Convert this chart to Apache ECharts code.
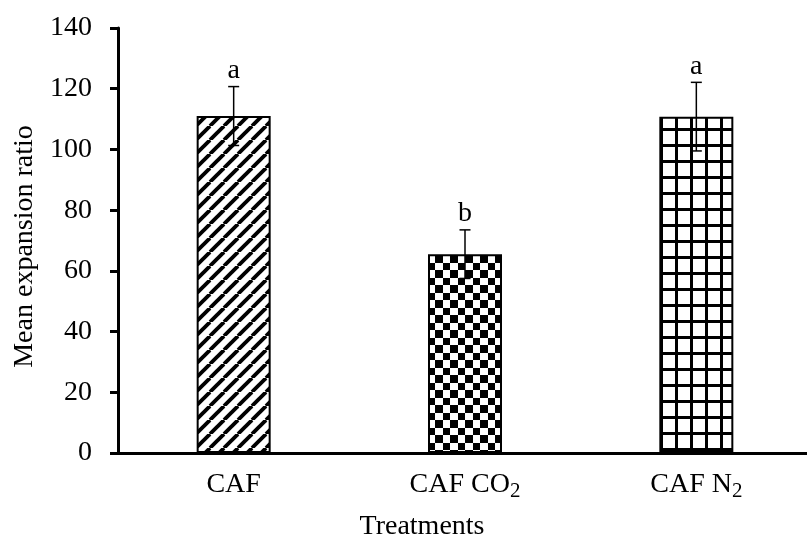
<!DOCTYPE html>
<html>
<head>
<meta charset="utf-8">
<script src="https://cdn.jsdelivr.net/npm/echarts@6/dist/echarts.min.js"></script>
<style>
  html, body { margin: 0; padding: 0; background: #fff; }
  #main { width: 807px; height: 535px; }
</style>
</head>
<body>
<div id="main"></div>
<script>
// data
var categories = ['CAF', 'CAF CO2', 'CAF N2'];
var meanValues = [111, 65.5, 110.8];
var errorValues = [9.7, 8, 11.3];
var groupLetters = ['a', 'b', 'a'];

var FONT = '"Liberation Serif", "Times New Roman", serif';

// small canvas tiles used as bar fills
function makeTile(w, h, draw) {
  var c = document.createElement('canvas');
  c.width = w;
  c.height = h;
  var ctx = c.getContext('2d');
  ctx.fillStyle = '#fff';
  ctx.fillRect(0, 0, w, h);
  ctx.fillStyle = '#000';
  ctx.strokeStyle = '#000';
  draw(ctx, w, h);
  return c;
}

var stripeTile = makeTile(14, 14, function (ctx, w, h) {
  ctx.lineWidth = 3.8;
  [-w, 0, w].forEach(function (k) {
    ctx.beginPath();
    ctx.moveTo(k, h);
    ctx.lineTo(k + w, 0);
    ctx.stroke();
  });
});

var checkTile = makeTile(15, 15, function (ctx) {
  ctx.fillRect(0, 0, 8, 8);
  ctx.fillRect(8, 8, 7, 7);
});

var gridTile = makeTile(15, 16, function (ctx, w, h) {
  ctx.fillRect(0, 0, 3, h);
  ctx.fillRect(0, 0, w, 3);
});

var fills = [
  { image: stripeTile, repeat: 'repeat' },
  { image: checkTile, repeat: 'repeat' },
  { image: gridTile, repeat: 'repeat' }
];

var chart = echarts.init(document.getElementById('main'));

chart.setOption({
  animation: false,
  backgroundColor: '#fff',
  grid: {
    left: 118,
    top: 28,
    width: 694,
    height: 425,
    containLabel: false,
    outerBoundsMode: 'none'
  },
  xAxis: {
    type: 'category',
    data: categories,
    name: 'Treatments',
    nameLocation: 'middle',
    nameGap: 55,
    nameTextStyle: {
      fontFamily: FONT,
      fontSize: 28,
      color: '#000',
      padding: [0, 86, 0, 0]
    },
    axisLine: { lineStyle: { color: '#000', width: 3 } },
    axisTick: { inside: true, length: 7, lineStyle: { color: '#000', width: 3 } },
    axisLabel: {
      margin: 18,
      formatter: function (v) {
        if (/2$/.test(v)) {
          return '{m|' + v.slice(0, -1) + '}{s|2}';
        }
        return '{m|' + v + '}';
      },
      rich: {
        m: {
          fontFamily: FONT, fontSize: 28, color: '#000',
          lineHeight: 28, verticalAlign: 'top', padding: [0, 0, 9, 0]
        },
        s: {
          fontFamily: FONT, fontSize: 21, color: '#000',
          lineHeight: 21, padding: [12, 0, 0, 0]
        }
      }
    }
  },
  yAxis: {
    type: 'value',
    min: 0,
    max: 140,
    interval: 20,
    name: 'Mean expansion ratio',
    nameLocation: 'middle',
    nameGap: 77,
    nameTextStyle: {
      fontFamily: FONT,
      fontSize: 28,
      color: '#000',
      padding: [0, 12, 0, 0]
    },
    axisLine: { show: true, lineStyle: { color: '#000', width: 3 } },
    axisTick: { show: true, length: 8, lineStyle: { color: '#000', width: 3 } },
    axisLabel: { margin: 26, fontFamily: FONT, fontSize: 28, color: '#000' },
    splitLine: { show: false }
  },
  series: [{
    type: 'bar',
    barWidth: 74,
    data: meanValues.map(function (v, i) {
      return {
        value: v,
        itemStyle: { color: fills[i], borderColor: '#000', borderWidth: 2 }
      };
    })
  }, {
    type: 'custom',
    z: 5,
    data: meanValues.map(function (v, i) {
      return [i, v, errorValues[i]];
    }),
    renderItem: function (params, api) {
      var i = api.value(0);
      var hi = api.coord([i, api.value(1) + api.value(2)]);
      var lo = api.coord([i, api.value(1) - api.value(2)]);
      var x = hi[0];
      var ls = { stroke: '#000', lineWidth: 1.5 };
      return {
        type: 'group',
        children: [
          { type: 'line', shape: { x1: x, y1: hi[1], x2: x, y2: lo[1] }, style: ls },
          { type: 'line', shape: { x1: x - 5.5, y1: hi[1], x2: x + 5.5, y2: hi[1] }, style: ls },
          { type: 'line', shape: { x1: x - 5.5, y1: lo[1], x2: x + 5.5, y2: lo[1] }, style: ls },
          {
            type: 'text',
            style: {
              text: groupLetters[params.dataIndex],
              x: x,
              y: hi[1] - 2,
              align: 'center',
              verticalAlign: 'bottom',
              fontFamily: FONT,
              fontSize: 28,
              fill: '#000'
            }
          }
        ]
      };
    }
  }]
});
</script>
</body>
</html>
